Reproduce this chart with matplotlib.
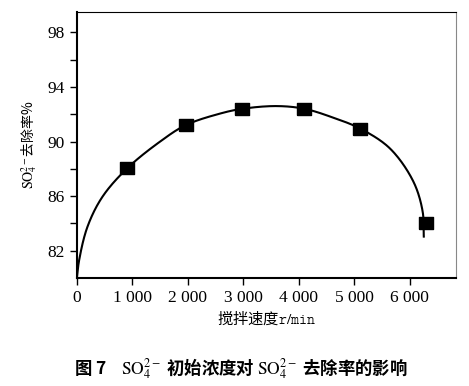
import numpy as np
import matplotlib.pyplot as plt
from matplotlib.ticker import FixedLocator

plt.rcParams['font.family'] = ['Liberation Serif', 'Noto Sans CJK SC', 'DejaVu Sans']
plt.rcParams['mathtext.fontset'] = 'stix'

# measured points (stirring speed r/min, removal %)
speed = [910, 1960, 2980, 4100, 5110, 6290]
removal = [88.05, 91.2, 92.4, 92.4, 90.94, 84.0]

# fitted curve
curve_x = [0, 40, 190, 460, 910, 1500, 1960, 2580, 2980, 3600, 4100,
           4620, 5110, 5640, 6060, 6230, 6252]
curve_y = [80.0, 81.3, 83.75, 85.95, 88.05, 90.0, 91.2, 92.05, 92.4, 92.6,
           92.4, 91.75, 90.94, 89.5, 87.1, 84.9, 83.03]

xticks = [0, 1000, 2000, 3000, 4000, 5000, 6000]
xticklabels = ['0', '1 000', '2 000', '3 000', '4 000', '5 000', '6 000']


def smooth(xs, ys, sx, sy, n=30):
    """ Centripetal Catmull-Rom through the read curve points. """
    p = np.column_stack([np.asarray(xs) * sx, np.asarray(ys) * sy])
    p = np.vstack([2 * p[0] - p[1], p, 2 * p[-1] - p[-2]])
    out = []
    for i in range(1, len(p) - 2):
        p0, p1, p2, p3 = p[i - 1], p[i], p[i + 1], p[i + 2]
        t0 = 0.0
        t1 = t0 + np.linalg.norm(p1 - p0) ** 0.5
        t2 = t1 + np.linalg.norm(p2 - p1) ** 0.5
        t3 = t2 + np.linalg.norm(p3 - p2) ** 0.5
        t = np.linspace(t1, t2, n)[:, None]
        a1 = (t1 - t) / (t1 - t0) * p0 + (t - t0) / (t1 - t0) * p1
        a2 = (t2 - t) / (t2 - t1) * p1 + (t - t1) / (t2 - t1) * p2
        a3 = (t3 - t) / (t3 - t2) * p2 + (t - t2) / (t3 - t2) * p3
        b1 = (t2 - t) / (t2 - t0) * a1 + (t - t0) / (t2 - t0) * a2
        b2 = (t3 - t) / (t3 - t1) * a2 + (t - t1) / (t3 - t1) * a3
        c = (t2 - t) / (t2 - t1) * b1 + (t - t1) / (t2 - t1) * b2
        out.append(c)
    out = np.vstack(out)
    return out[:, 0] / sx, out[:, 1] / sy


fig = plt.figure(figsize=(4.69, 3.86), dpi=100)
ax = fig.add_axes([0.164, 0.280, 0.808, 0.689])

cx, cy = smooth(curve_x, curve_y, 0.0555, 13.625)
ax.plot(cx, cy, color='black', lw=1.5)
rect = [(-1.3, -1), (1.3, -1), (1.3, 1), (-1.3, 1), (-1.3, -1)]
ax.plot(speed, removal, ls='none', marker=rect, ms=10.5, color='black')

ax.set_xlim(0, 6830)
ax.set_ylim(80, 99.5)
ax.set_xticks(xticks, xticklabels)
ax.yaxis.set_major_locator(FixedLocator([82, 86, 90, 94, 98]))
ax.yaxis.set_minor_locator(FixedLocator([84, 88, 92, 96]))
ax.tick_params(axis='both', which='major', direction='out', length=5,
               width=1, labelsize=12.5, pad=4)
ax.tick_params(axis='y', which='minor', direction='out', length=5, width=1)

for s in ['left', 'bottom']:
    ax.spines[s].set_linewidth(1.5)
ax.spines['top'].set_linewidth(0.8)
ax.spines['right'].set_linewidth(0.8)
ax.spines['right'].set_color('#888888')

ax.set_xlabel(r'搅拌速度$\mathtt{r/min}$', fontsize=11,
              family=['Noto Sans CJK SC', 'DejaVu Sans'], labelpad=2)
ax.set_ylabel(r'$\mathrm{SO}_4^{2-}$去除率%', fontsize=10,
              family=['Noto Sans CJK SC', 'DejaVu Sans'], labelpad=6)

fig.text(0.157, 0.046, r'图 7    $\mathrm{SO}_4^{2-}$ 初始浓度对 $\mathrm{SO}_4^{2-}$ 去除率的影响',
         fontsize=12.5, fontweight='bold', ha='left', va='center',
         family=['Noto Sans CJK SC', 'DejaVu Sans'])

fig.savefig('out.png', dpi=100)
